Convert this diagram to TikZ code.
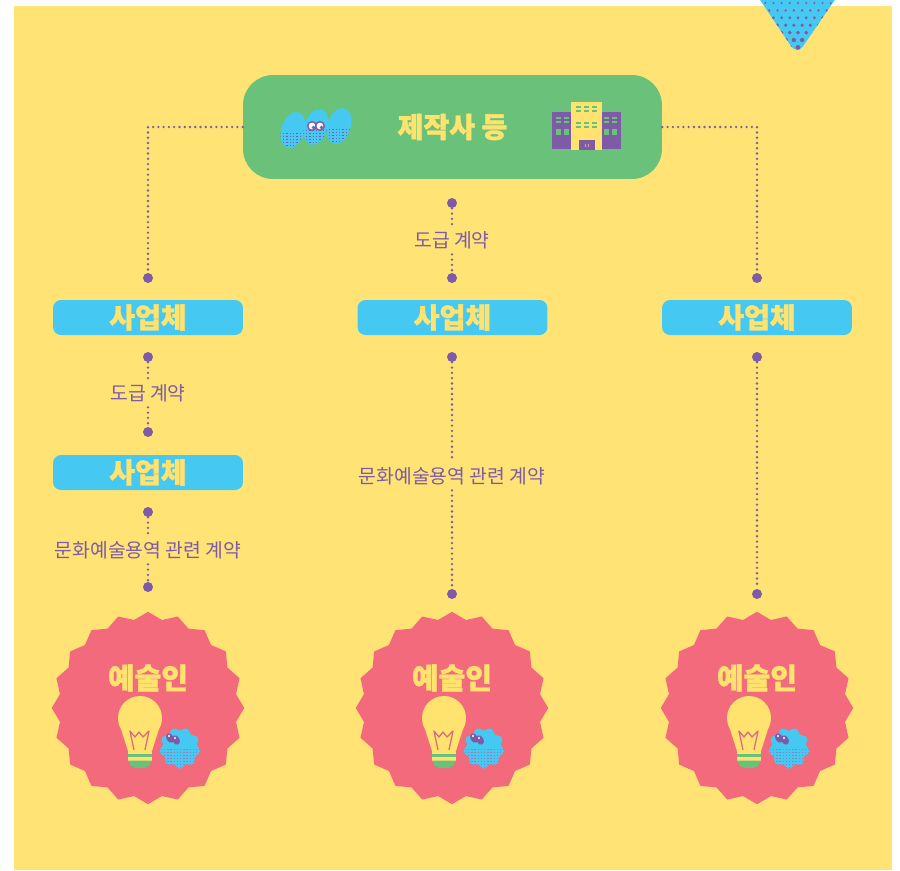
\documentclass[tikz,border=0pt]{standalone}
\usepackage{fontspec}
\setmainfont{Noto Sans CJK KR}[BoldFeatures={FakeBold=1.3}]
\usetikzlibrary{positioning,shapes.geometric}

\definecolor{bgyellow}{HTML}{FFE375}
\definecolor{boxgreen}{HTML}{6AC17A}
\definecolor{boxblue}{HTML}{45C8F2}
\definecolor{starpink}{HTML}{F26A7B}
\definecolor{linepurple}{HTML}{7D5BA6}
\definecolor{textyellow}{HTML}{FFE36E}

\tikzset{
  headbox/.style={fill=boxgreen, rounded corners=0.6cm, minimum width=8.38cm,
    minimum height=2.08cm, inner sep=0pt, text=textyellow,
    font=\bfseries\fontsize{16}{16}\selectfont},
  partybox/.style={fill=boxblue, rounded corners=0.16cm, minimum width=3.8cm,
    minimum height=0.7cm, inner sep=0pt, text=textyellow,
    font=\bfseries\fontsize{16}{16}\selectfont},
  joint/.style={circle, fill=linepurple, inner sep=0pt, minimum size=0.2cm},
  contract/.style={text=linepurple, font=\fontsize{11}{12}\selectfont, inner sep=3pt},
  dotline/.style={linepurple, line width=1.5pt, line cap=round, dash pattern=on 0pt off 3pt},
  artist/.style={star, star points=20, star point ratio=1.08, minimum size=3.85cm,
    fill=starpink, inner sep=0pt},
}

\begin{document}
\begin{tikzpicture}[x=0.02cm,y=-0.02cm]
  \useasboundingbox (0,0) rectangle (900,870);
  \fill[white] (0,0) rectangle (900,870);
  \fill[bgyellow] (14,6) rectangle (892,870);

  % pennant hanging from the top edge
  \begin{scope}
    \clip (0,0) rectangle (900,870);
    \path[clip, rounded corners=6pt] (752,-12) -- (843,-12) -- (797,55) -- cycle;
    \fill[boxblue] (740,-10) rectangle (850,60);
    \foreach \j in {0,...,6}{
      \foreach \i in {0,...,10}{
        \fill[linepurple] ({757+\i*8.2+4.1*mod(\j,2)},{3+\j*7.4}) circle ({1.1+0.22*\j});
      }
    }
  \end{scope}

  % producer box
  \node[headbox] (maker) at (452.5,127) {제작사 등};

  % blue blobs on the left of the box
  \foreach \cx/\cy in {293/130, 316/127, 339/126}{
    \begin{scope}
      \clip[rotate around={-18:(\cx,\cy)}] (\cx,\cy) ellipse (11.5 and 18.5);
      \fill[boxblue] (\cx-20,\cy-20) rectangle (\cx+20,\cy+20);
      \foreach \i in {-5,...,5}{
        \foreach \j in {1,...,6}{
          \fill[linepurple] ({\cx+\i*3.4},{\cy+\j*3}) rectangle ++(1.4,1.4);
        }
      }
    \end{scope}
  }
  \filldraw[fill=white, draw=linepurple, line width=0.8pt] (312,126) circle (4.3);
  \filldraw[fill=white, draw=linepurple, line width=0.8pt] (320,126) circle (4.3);
  \fill[linepurple] (313.5,127.5) circle (1.8);
  \fill[linepurple] (321.5,127.5) circle (1.8);

  % office building on the right of the box
  \fill[linepurple] (552,112) rectangle (571,149);
  \fill[linepurple] (602,112) rectangle (621,149);
  \fill[textyellow] (571,102) rectangle (602,150);
  \fill[linepurple] (579,140) rectangle (595,150);
  \draw[starpink!70, line width=0.4pt] (585.5,143.5) -- (585.5,146.5) (588.5,143.5) -- (588.5,146.5);
  \foreach \wx in {576,584,592}{
    \foreach \wy in {106,110,121.7,126}{
      \fill[boxgreen] (\wx,\wy) rectangle ++(5,2.4);
    }
  }
  \foreach \wx in {556,564,604,612}{
    \fill[boxgreen] (\wx,116.7) rectangle ++(5,2.4);
    \fill[boxgreen] (\wx,120.7) rectangle ++(5,2.4);
    \fill[boxgreen] (\wx,128.7) rectangle ++(5,6.3);
  }

  % businesses
  \node[partybox] (partyL) at (148,317.5) {사업체};
  \node[partybox] (partyM) at (452.5,317.5) {사업체};
  \node[partybox] (partyR) at (757,317.5) {사업체};
  \node[partybox] (partyL2) at (148,472.5) {사업체};

  % connector end points
  \node[joint] (topL) at (148,278) {};
  \node[joint] (topM0) at (452,203) {};
  \node[joint] (topM) at (452,278) {};
  \node[joint] (topR) at (757,278) {};
  \node[joint] (l1) at (148,357) {};
  \node[joint] (l2) at (148,432) {};
  \node[joint] (l3) at (148,512) {};
  \node[joint] (l4) at (148,587) {};
  \node[joint] (m1) at (452,357) {};
  \node[joint] (m2) at (452,594) {};
  \node[joint] (r1) at (757,357) {};
  \node[joint] (r2) at (757,594) {};

  % contract labels
  \node[contract] (subM) at (452,240) {도급 계약};
  \node[contract] (subL) at (148,393) {도급 계약};
  \node[contract] (artL) at (148,550) {문화예술용역 관련 계약};
  \node[contract] (artM) at (452,476) {문화예술용역 관련 계약};

  \draw[dotline] (maker.west) -| (topL);
  \draw[dotline] (maker.east) -| (topR);
  \draw[dotline] (topM0) -- (subM);
  \draw[dotline] (subM) -- (topM);
  \draw[dotline] (l1) -- (subL);
  \draw[dotline] (subL) -- (l2);
  \draw[dotline] (l3) -- (artL);
  \draw[dotline] (artL) -- (l4);
  \draw[dotline] (m1) -- (artM);
  \draw[dotline] (artM) -- (m2);
  \draw[dotline] (r1) -- (r2);

  % artists
  \foreach \cx/\n in {148/1, 452/2, 757/3}{
    \node[artist] (artist\n) at (\cx,708) {};
    \node[text=textyellow, font=\bfseries\fontsize{16.5}{16.5}\selectfont] (artistname\n) at (\cx,678) {예술인};
    % light bulb
    \fill[textyellow] (\cx-8,718) circle (22);
    \fill[textyellow] (\cx-28,726) -- (\cx+12,726) -- (\cx+4,751) -- (\cx-20,751) -- cycle;
    \fill[textyellow] (\cx-20,750) rectangle (\cx+4,753.5);
    \fill[boxgreen] (\cx-20,753.5) rectangle (\cx+4,757);
    \fill[textyellow] (\cx-20,757) rectangle (\cx+4,760.5);
    \fill[boxgreen] (\cx-20,760.5) -- (\cx+4,760.5) -- (\cx+1,766) .. controls (\cx-2,769) and (\cx-14,769) .. (\cx-17,766) -- cycle;
    \draw[starpink!80!linepurple, line width=0.7pt, line join=round]
      (\cx-14,750) -- (\cx-18,731) -- (\cx-13,737) -- (\cx-9,732) -- (\cx-5,737) -- (\cx+1,731) -- (\cx-3,750);
    % spiky blob
    \begin{scope}
      \clip plot[domain=0:355, samples=72] ({\cx+32+(19+1.6*sin(9*\x))*cos(\x)},{748+(19+1.6*sin(9*\x))*sin(\x)}) -- cycle;
      \fill[boxblue] (\cx+8,724) rectangle (\cx+56,772);
      \foreach \i in {-6,...,7}{
        \foreach \j in {1,...,7}{
          \fill[linepurple!80] ({\cx+32+\i*3.2},{746+\j*3}) rectangle ++(1.3,1.3);
        }
      }
    \end{scope}
    \filldraw[fill=linepurple, draw=linepurple, rotate around={30:(\cx+22,738)}] (\cx+22,738) ellipse (3.2 and 4.6);
    \filldraw[fill=linepurple, draw=linepurple, rotate around={30:(\cx+28,740)}] (\cx+28,740) ellipse (3.2 and 4.6);
    \fill[white] (\cx+21,736) circle (1.1);
    \fill[white] (\cx+27,738) circle (1.1);
  }
\end{tikzpicture}
\end{document}
